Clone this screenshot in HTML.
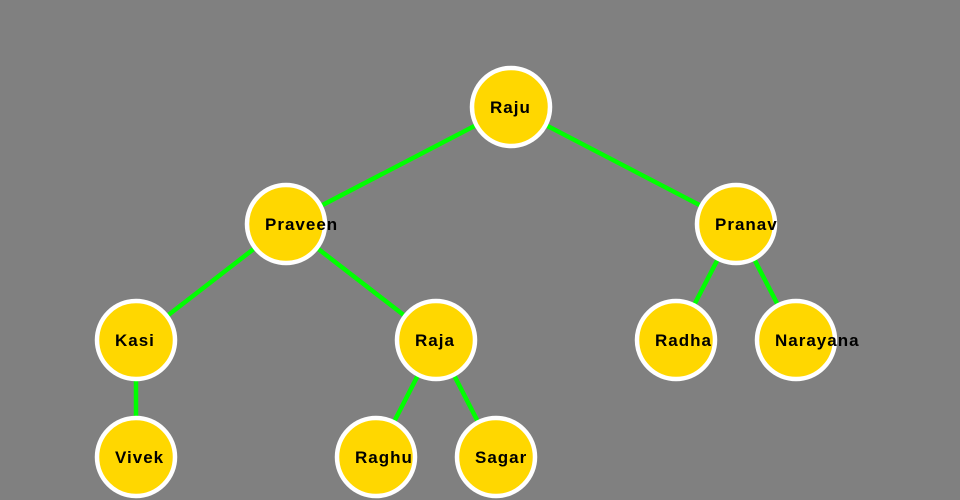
<!DOCTYPE html>
<html><head><style>
html,body{margin:0;padding:0;background:#808080;width:960px;height:500px;overflow:hidden}
svg{display:block}
text{font-family:"Liberation Sans",sans-serif;font-weight:bold;font-size:17px;letter-spacing:1px;fill:#000}
</style></head><body>
<svg width="960" height="500" viewBox="0 0 960 500">
<g stroke="#00ff00" stroke-width="4.5">
<line x1="511" y1="107" x2="286" y2="224"/>
<line x1="511" y1="107" x2="736" y2="224"/>
<line x1="286" y1="224" x2="136" y2="340"/>
<line x1="286" y1="224" x2="436" y2="340"/>
<line x1="736" y1="224" x2="676" y2="340"/>
<line x1="736" y1="224" x2="796" y2="340"/>
<line x1="136" y1="340" x2="136" y2="457"/>
<line x1="436" y1="340" x2="376" y2="457"/>
<line x1="436" y1="340" x2="496" y2="457"/>
</g>
<g fill="#FFD700" stroke="#fff" stroke-width="4.5">
<circle cx="511" cy="107" r="39"/>
<circle cx="286" cy="224" r="39"/>
<circle cx="736" cy="224" r="39"/>
<circle cx="136" cy="340" r="39"/>
<circle cx="436" cy="340" r="39"/>
<circle cx="676" cy="340" r="39"/>
<circle cx="796" cy="340" r="39"/>
<circle cx="136" cy="457" r="39"/>
<circle cx="376" cy="457" r="39"/>
<circle cx="496" cy="457" r="39"/>
</g>
<text x="490" y="113">Raju</text>
<text x="265" y="230">Praveen</text>
<text x="715" y="230">Pranav</text>
<text x="115" y="346">Kasi</text>
<text x="415" y="346">Raja</text>
<text x="655" y="346">Radha</text>
<text x="775" y="346">Narayana</text>
<text x="115" y="463">Vivek</text>
<text x="355" y="463">Raghu</text>
<text x="475" y="463">Sagar</text>
</svg>
</body></html>
